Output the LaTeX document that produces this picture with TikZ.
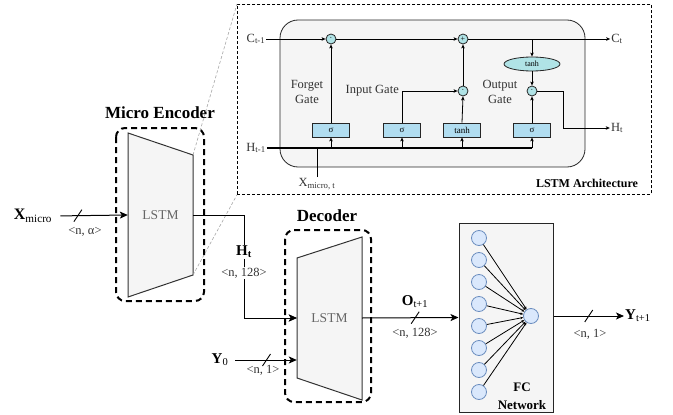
\documentclass[tikz,border=0pt]{standalone}
\usepackage{fontspec}
\setmainfont{Liberation Serif}
\usetikzlibrary{arrows.meta,shapes.geometric}
\definecolor{panel}{HTML}{F5F5F5}
\definecolor{gatefill}{HTML}{B1DDF0}
\definecolor{opfill}{HTML}{B0E3E6}
\definecolor{nfill}{HTML}{DAE8FC}
\definecolor{nline}{HTML}{6C8EBF}
\definecolor{txtgray}{HTML}{333333}
\newcommand\fsz[1]{\fontsize{#1}{#1}\selectfont}
\begin{document}
\begin{tikzpicture}[x=1pt,y=-1pt,
  big/.style={-{Stealth[length=8pt,width=7pt,inset=2pt]}, line width=1pt},
  sm/.style={-{Stealth[length=4pt,width=3.5pt,inset=1pt]}, line width=0.8pt},
  gatebox/.style={draw=black!85, fill=gatefill, line width=0.8pt, minimum width=37pt, minimum height=14pt, inner sep=0pt, font=\fsz{9}},
  opc/.style={circle, draw=black!85, fill=opfill, line width=0.8pt, minimum size=10pt, inner sep=0pt, font=\fsz{8}},
  neuron/.style={circle, draw=nline, fill=nfill, line width=0.8pt, minimum size=15pt, inner sep=0pt},
  enframe/.style={draw, line width=2pt, dash pattern=on 6pt off 4pt, rounded corners=9pt},
  lbl/.style={font=\fsz{12.5}, text=txtgray, inner sep=1pt},
  dim/.style={font=\fsz{12.5}, text=txtgray, inner sep=1pt},
  ttl/.style={font=\fsz{17}\bfseries},
  zoomln/.style={draw=gray!70, dash pattern=on 3pt off 2pt, line width=0.6pt},
  trap/.style={draw=black!80, fill=panel, line width=1pt},
  lstmtxt/.style={font=\fsz{13.5}, text=black!60, minimum width=65pt, inner sep=0pt},
]
\useasboundingbox (0,0) rectangle (673,415);

% ---------- LSTM architecture zoom box ----------
\node[draw, line width=0.8pt, dash pattern=on 3pt off 2pt, anchor=north west,
      minimum width=414pt, minimum height=190pt, inner sep=0pt] (arch) at (237,4) {};
\draw[draw=black!85, fill=panel, line width=0.8pt, rounded corners=18pt] (280,20) rectangle (585,167);

\node[lbl] (cprev) at (256,39) {C\textsubscript{t-1}};
\node[opc] (fmul) at (331,39) {·};
\node[opc] (addc) at (463,39) {+};
\node[lbl] (cnext) at (617,39) {C\textsubscript{t}};
\coordinate (cbr) at (532,39);
\node[gatebox] (fg) at (331,130) {σ};
\node[gatebox] (ig) at (402,130) {σ};
\node[gatebox] (cg) at (462,130) {tanh};
\node[gatebox] (og) at (532,130) {σ};
\node[opc] (imul) at (463,91) {·};
\node[opc] (omul) at (532,91) {·};
\node[ellipse, draw=black!85, fill=opfill, line width=0.8pt, minimum width=56pt, minimum height=14pt,
      inner sep=0pt, font=\fsz{8}] (th) at (532,64) {tanh};
\node[lbl] (hprev) at (256,148) {H\textsubscript{t-1}};
\node[lbl] (hnext) at (617,128) {H\textsubscript{t}};
\node[lbl] (xt) at (317,184) {X\textsubscript{micro, t}};
\node[lbl, font=\fontsize{12.5}{15}\selectfont, align=center] (fgl) at (307,92) {Forget\\Gate};
\node[lbl, anchor=east] (igl) at (400,91) {Input Gate};
\node[lbl, font=\fontsize{12.5}{15}\selectfont, align=center] (ogl) at (500,92) {Output\\Gate};
\node[font=\fsz{12}\bfseries, inner sep=0pt] (archl) at (587,183) {LSTM Architecture};

\draw[sm] (cprev.east) -- (fmul.west);
\draw[sm] (fmul.east) -- (addc.west);
\draw[sm] (addc.east) -- (cnext.west);
\draw[sm] (cbr) -- (th.north);
\draw[sm] (th.south) -- (omul.north);
\draw[sm] (fg.north) -- (fmul.south);
\draw[sm] (ig.north) |- (imul.west);
\draw[sm] (cg.north) -- (imul.south);
\draw[sm] (imul.north) -- (addc.south);
\draw[sm] (og.north) -- (omul.south);
\coordinate (hturn) at (563,91);
\draw[sm] (omul.east) -- (hturn) |- (hnext.west);
\coordinate (busend) at (532,148);
\draw[line width=1.8pt] (hprev.east) -- (hprev.east -| fg.south);
\draw[line width=1.1pt] (hprev.east -| fg.south) -- (busend);
\draw[line width=0.9pt] (xt.north) -- (xt.north |- hprev.east);
\draw[sm] (hprev.east -| fg.south) -- (fg.south);
\draw[sm] (hprev.east -| ig.south) -- (ig.south);
\draw[sm] (hprev.east -| cg.south) -- (cg.south);
\draw[sm] (busend) -- (og.south);

% ---------- Micro encoder ----------
\node[ttl] (enct) at (160,113) {Micro Encoder};
\draw[enframe] (116,128) rectangle (204,301);
\coordinate (eTL) at (128,133);
\coordinate (eTR) at (193,155);
\coordinate (eBR) at (193,275);
\coordinate (eBL) at (128,297);
\draw[trap] (eTL) -- (eTR) -- (eBR) -- (eBL) -- cycle;
\node[lstmtxt] (enc) at (160.5,215) {LSTM};
\draw[zoomln] (eTR) -- (arch.north west);
\draw[zoomln] (eBR) -- (arch.south west);

\node[font=\fsz{16}, inner sep=1pt] (xm) at (33,216) {\textbf{X}\textsubscript{micro}};
\draw[big, shorten <=7pt] (xm.east) -- coordinate[pos=0.33] (s1) (enc.west);
\draw[line width=0.9pt] (s1) ++(-4,6) -- ++(8,-12);
\node[dim] (d1) at (85,232) {<n, α>};

% ---------- encoder -> decoder ----------
\coordinate (hturn2) at (244,215);
\node[lstmtxt] (dec) at (329.5,318) {};
\draw[big] (enc.east) -- (hturn2) |- (dec.west);
\node[font=\fsz{15}\bfseries, fill=white, inner sep=1pt] (htl) at (244,252) {H\textsubscript{t}};
\node[dim, fill=white] (d2) at (244,273) {<n, 128>};

% ---------- Decoder ----------
\node[ttl] (dect) at (327,216) {Decoder};
\draw[enframe] (285,230) rectangle (371,402);
\coordinate (dTL) at (297,258);
\coordinate (dTR) at (362,237);
\coordinate (dBR) at (362,400);
\coordinate (dBL) at (297,378);
\draw[trap] (dTL) -- (dTR) -- (dBR) -- (dBL) -- cycle;
\node[lstmtxt] (dectxt) at (329.5,318) {LSTM};
\draw[big] (hturn2 |- dec.west) -- (dec.west);

\node[font=\fsz{15}, inner sep=1pt] (y0) at (220,360) {\textbf{Y}\textsubscript{0}};
\draw[big, shorten <=6pt] (y0.east) -- coordinate[pos=0.55] (s2) (y0.east -| dec.west);
\draw[line width=0.9pt] (s2) ++(-4,6) -- ++(8,-12);
\node[dim] (d3) at (263,370) {<n, 1>};

% ---------- FC network ----------
\node[draw=black!85, fill=panel, line width=1pt, minimum width=94pt, minimum height=189pt, inner sep=0pt] (fc) at (506,317.5) {};
\foreach \i in {0,...,7} \node[neuron] (n\i) at (479,238+22*\i) {};
\node[neuron] (nout) at (531,316) {};
\foreach \i in {0,...,7} \draw[line width=0.8pt, -{Stealth[length=3pt,width=2.5pt]}] (n\i) -- (nout);
\node[font=\fontsize{13}{18}\selectfont\bfseries, align=center, inner sep=0pt] (fcl) at (522,396) {FC\\Network};

\draw[big] (dec.east) -- coordinate[pos=0.55] (s3) (fc.west);
\draw[line width=0.9pt] (s3) ++(-4,6) -- ++(8,-12);
\node[font=\fsz{15}, inner sep=1pt] (otl) at (415,302) {\textbf{O}\textsubscript{t+1}};
\node[dim] (d4) at (415,333) {<n, 128>};

\node[font=\fsz{15}, anchor=west, inner sep=1pt] (yt) at (624,316) {\textbf{Y}\textsubscript{t+1}};
\draw[big] (fc.east |- yt.west) -- coordinate[pos=0.5] (s4) (yt.west);
\draw[line width=0.9pt] (s4) ++(-4,6) -- ++(8,-12);
\node[dim] (d5) at (590,334) {<n, 1>};
\end{tikzpicture}
\end{document}
